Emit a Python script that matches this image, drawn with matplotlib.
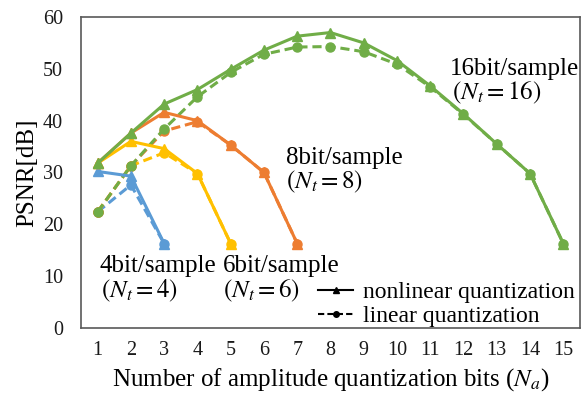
import matplotlib
matplotlib.use('Agg')
import matplotlib.pyplot as plt
from matplotlib.lines import Line2D

plt.rcParams['font.family'] = ['Liberation Serif', 'DejaVu Serif']
plt.rcParams['mathtext.fontset'] = 'stix'

# x: number of amplitude quantization bits
bits_4 = [1, 2, 3]
bits_6 = [1, 2, 3, 4, 5]
bits_8 = [1, 2, 3, 4, 5, 6, 7]
bits_16 = list(range(1, 16))

# PSNR [dB], nonlinear quantization
nl_4 = [30.2, 29.3, 16.3]
nl_6 = [31.8, 36.0, 34.6, 29.8, 16.3]
nl_8 = [31.8, 37.6, 41.6, 40.0, 35.3, 30.0, 16.3]
nl_16 = [31.8, 37.6, 43.2, 46.0, 49.9, 53.6, 56.3, 57.0, 55.0, 51.6, 46.7, 41.3, 35.5, 29.8, 16.3]

# PSNR [dB], linear quantization
li_4 = [22.4, 27.6, 16.3]
li_6 = [22.4, 31.3, 33.8, 29.8, 16.3]
li_8 = [22.4, 31.3, 38.0, 39.8, 35.3, 30.0, 16.3]
li_16 = [22.4, 31.3, 38.4, 44.6, 49.3, 52.8, 54.2, 54.3, 53.3, 50.9, 46.5, 41.2, 35.5, 29.8, 16.3]

colors = {'4': '#5B9BD5', '6': '#FFC000', '8': '#ED7D31', '16': '#70AD47'}

fig = plt.figure(figsize=(5.84, 3.94), dpi=100)
ax = fig.add_axes([0.1387, 0.1675, 0.8543, 0.7894])

series = [
    ('4', bits_4, nl_4, li_4),
    ('6', bits_6, nl_6, li_6),
    ('8', bits_8, nl_8, li_8),
    ('16', bits_16, nl_16, li_16),
]
for key, xs, nl, li in series:
    c = colors[key]
    ax.plot(xs, li, color=c, lw=2.2, ls=(0, (3, 1.6)), marker='o', ms=6.5, zorder=2)
    ax.plot(xs, nl, color=c, lw=2.2, ls='-', marker='^', ms=6.5, zorder=3)

ax.set_xlim(0.5, 15.5)
ax.set_ylim(0, 60)
ax.set_xticks(range(1, 16))
ax.set_yticks(range(0, 61, 10))
ax.tick_params(length=0, labelsize=14.5, colors='#1a1a1a')
ax.tick_params(axis='y', pad=13)
ax.tick_params(axis='x', pad=9)
for s in ax.spines.values():
    s.set_color('#595959')
    s.set_linewidth(1.2)

ax.set_xlabel('Number of amplitude quantization bits ($N_a$)', fontsize=18, labelpad=5)
ax.set_ylabel('PSNR[dB]', fontsize=18, labelpad=3)

fs = 18
ax.text(11.6, 48.8, '16bit/sample', fontsize=fs, va='baseline')
ax.text(11.64, 44.2, '$(N_t=16)$', fontsize=fs, va='baseline')
ax.text(6.67, 31.6, '8bit/sample', fontsize=fs, va='baseline')
ax.text(6.67, 27.0, '$(N_t=8)$', fontsize=fs, va='baseline')
ax.text(1.07, 10.9, '4bit/sample', fontsize=fs, va='baseline')
ax.text(1.11, 6.0, '$(N_t=4)$', fontsize=fs, va='baseline')
ax.text(4.78, 10.9, '6bit/sample', fontsize=fs, va='baseline')
ax.text(4.78, 6.0, '$(N_t=6)$', fontsize=fs, va='baseline')

handles = [
    Line2D([], [], color='black', lw=1.5, marker='^', ms=4),
    Line2D([], [], color='black', lw=1.5, ls=(0, (3, 1.5)), marker='o', ms=4),
]
ax.legend(handles, ['nonlinear quantization', 'linear quantization'],
          loc='lower right', bbox_to_anchor=(0.995, -0.005), frameon=False,
          borderaxespad=0, borderpad=0.1,
          fontsize=17, handlelength=1.45, handletextpad=0.45, labelspacing=0.1)

fig.savefig('out.png', dpi=100)
